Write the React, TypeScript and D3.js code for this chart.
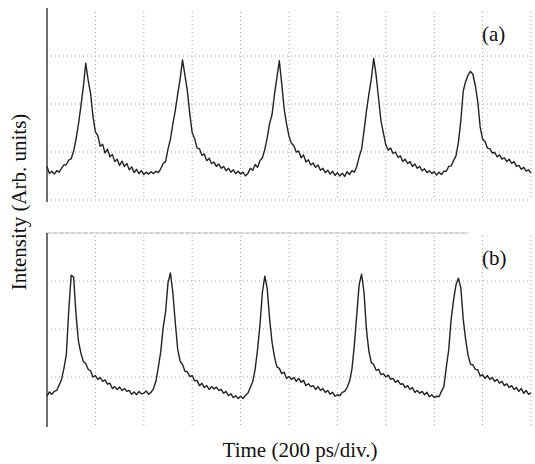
import React from 'react';
import * as d3 from 'd3';

// oscilloscope traces, one sample every 10 ps, values in vertical divisions
const sampleStep = 10;
const traceA = [
  0.70, 0.55, 0.60, 0.54, 0.61, 0.58, 0.66, 0.73, 0.74, 0.83,
  0.86, 1.02, 1.27, 1.58, 1.95, 2.35, 2.85, 2.5, 2.22, 1.74,
  1.42, 1.34, 1.12, 1.16, 0.98, 1.06, 0.9, 0.95, 0.8, 0.85,
  0.72, 0.81, 0.7, 0.76, 0.63, 0.69, 0.57, 0.64, 0.55, 0.61,
  0.53, 0.58, 0.54, 0.59, 0.55, 0.6, 0.57, 0.65, 0.76, 0.8,
  1.06, 1.27, 1.58, 1.86, 2.2, 2.52, 2.92, 2.6, 2.27, 1.8,
  1.4, 1.28, 1.08, 1.07, 0.93, 0.96, 0.82, 0.87, 0.76, 0.79,
  0.7, 0.75, 0.66, 0.7, 0.61, 0.66, 0.58, 0.63, 0.55, 0.6,
  0.54, 0.58, 0.5, 0.55, 0.66, 0.62, 0.74, 0.68, 0.82, 0.88,
  1.05, 1.3, 1.6, 1.78, 2.2, 2.55, 2.9, 2.42, 1.9, 1.58,
  1.33, 1.18, 1.13, 1.0, 1.02, 0.88, 0.94, 0.79, 0.84, 0.73,
  0.77, 0.68, 0.73, 0.62, 0.66, 0.57, 0.62, 0.54, 0.6, 0.51,
  0.57, 0.5, 0.56, 0.49, 0.59, 0.53, 0.61, 0.58, 0.7, 0.9,
  1.06, 1.44, 1.85, 2.2, 2.52, 2.95, 2.6, 2.12, 1.65, 1.4,
  1.15, 1.04, 1.08, 0.97, 1.0, 0.89, 0.92, 0.8, 0.85, 0.76,
  0.8, 0.7, 0.75, 0.66, 0.7, 0.61, 0.65, 0.57, 0.61, 0.55,
  0.59, 0.52, 0.58, 0.53, 0.6, 0.6, 0.7, 0.71, 0.82, 0.92,
  1.2, 1.65, 2.27, 2.47, 2.6, 2.68, 2.62, 2.38, 2.05, 1.52,
  1.27, 1.22, 1.08, 1.07, 0.98, 0.99, 0.9, 0.94, 0.85, 0.88,
  0.8, 0.85, 0.76, 0.8, 0.7, 0.72, 0.64, 0.68, 0.6, 0.63,
  0.56,
];
const traceB = [
  0.6, 0.69, 0.64, 0.7, 0.72, 0.83, 0.95, 1.18, 1.47, 2.4,
  3.12, 3.08, 2.3, 1.74, 1.5, 1.32, 1.28, 1.16, 1.13, 1.0,
  1.03, 0.95, 0.99, 0.91, 0.94, 0.85, 0.87, 0.76, 0.8, 0.74,
  0.79, 0.72, 0.76, 0.7, 0.72, 0.64, 0.69, 0.63, 0.7, 0.65,
  0.66, 0.71, 0.64, 0.68, 0.76, 0.91, 1.2, 1.53, 2.03, 2.36,
  2.96, 3.17, 2.76, 2.14, 1.58, 1.33, 1.26, 1.12, 1.11, 1.01,
  1.03, 0.92, 0.93, 0.82, 0.87, 0.78, 0.82, 0.74, 0.8, 0.75,
  0.79, 0.72, 0.74, 0.66, 0.7, 0.61, 0.65, 0.57, 0.61, 0.55,
  0.6, 0.55, 0.62, 0.66, 0.78, 0.9, 1.16, 1.57, 2.08, 2.76,
  3.1, 2.84, 2.2, 1.72, 1.42, 1.21, 1.18, 1.07, 1.1, 0.97,
  1.01, 0.95, 0.99, 0.91, 0.97, 0.89, 0.93, 0.82, 0.86, 0.8,
  0.82, 0.74, 0.8, 0.72, 0.76, 0.68, 0.72, 0.64, 0.68, 0.6,
  0.63, 0.61, 0.68, 0.7, 0.78, 0.91, 1.16, 1.66, 2.3, 2.93,
  3.14, 2.76, 1.99, 1.54, 1.3, 1.26, 1.14, 1.16, 1.05, 1.07,
  1.0, 1.04, 0.95, 0.97, 0.89, 0.93, 0.85, 0.86, 0.78, 0.82,
  0.74, 0.78, 0.68, 0.72, 0.66, 0.7, 0.63, 0.68, 0.59, 0.63,
  0.57, 0.6, 0.59, 0.7, 0.8, 1.2, 1.57, 2.2, 2.6, 2.92,
  3.06, 2.86, 2.2, 1.78, 1.45, 1.27, 1.25, 1.16, 1.15, 1.02,
  1.05, 0.97, 1.03, 0.95, 0.99, 0.91, 0.95, 0.87, 0.91, 0.82,
  0.86, 0.78, 0.82, 0.74, 0.78, 0.7, 0.76, 0.66, 0.72, 0.64,
  0.67,
];
const timeTicks = [200, 400, 600, 800, 1000, 1200, 1400, 1600, 1800, 2000];
const levelTicksA = [0, 1, 2, 3];
const levelTicksB = [1, 2, 3];
const panelLabels = ['(a)', '(b)'];
const xLabel = 'Time (200 ps/div.)';
const yLabel = 'Intensity (Arb. units)';

const width = 535;
const height = 464;
const font = '"Liberation Serif", "Times New Roman", serif';

const x = d3.scaleLinear().domain([0, 2000]).range([47, 531]);
const yA = d3.scaleLinear().domain([0, 4]).range([200, 8]);
const yB = d3.scaleLinear().domain([0, 4]).range([425, 233]);

function Panel({ data, y, levels, label, top, labelY, gridTop }) {
  const line = d3
    .line<number>()
    .x((d, i) => x(i * sampleStep))
    .y(d => y(d));
  return (
    <g>
      {timeTicks.map(t => (
        <line key={'v' + t} x1={x(t)} x2={x(t)} y1={gridTop} y2={y(0)}
          stroke="#a0a0a0" strokeWidth={1} strokeDasharray="1 3" />
      ))}
      {levels.map(v => (
        <line key={'h' + v} x1={x(0)} x2={x(2000)} y1={y(v)} y2={y(v)}
          stroke="#a0a0a0" strokeWidth={1} strokeDasharray="1 3" />
      ))}
      {top && (
        <line x1={x(0)} x2={x(1740)} y1={y(4)} y2={y(4)}
          stroke="#a8a8a8" strokeWidth={1.2} strokeDasharray="5 1" />
      )}
      <line x1={x(0)} x2={x(0)} y1={y(4)} y2={y(0) + 2} stroke="#333" strokeWidth={1.4} />
      <path d={line(data) || ''} fill="none" stroke="#222" strokeWidth={1.4} strokeLinejoin="round" />
      <text x={482} y={labelY} fontFamily={font} fontSize={21} fill="#111">{label}</text>
    </g>
  );
}

export default function App() {
  return (
    <svg width={width} height={height} style={{ position: 'absolute', left: 0, top: 0, background: '#fff' }}>
      <Panel data={traceA} y={yA} levels={levelTicksA} label={panelLabels[0]} top={false} labelY={41} gridTop={12} />
      <Panel data={traceB} y={yB} levels={levelTicksB} label={panelLabels[1]} top={true} labelY={265} gridTop={236} />
      <text x={300} y={457} textAnchor="middle" fontFamily={font} fontSize={21} fill="#111">{xLabel}</text>
      <text transform="translate(26,202) rotate(-90)" textAnchor="middle" fontFamily={font} fontSize={21} fill="#111">{yLabel}</text>
    </svg>
  );
}
